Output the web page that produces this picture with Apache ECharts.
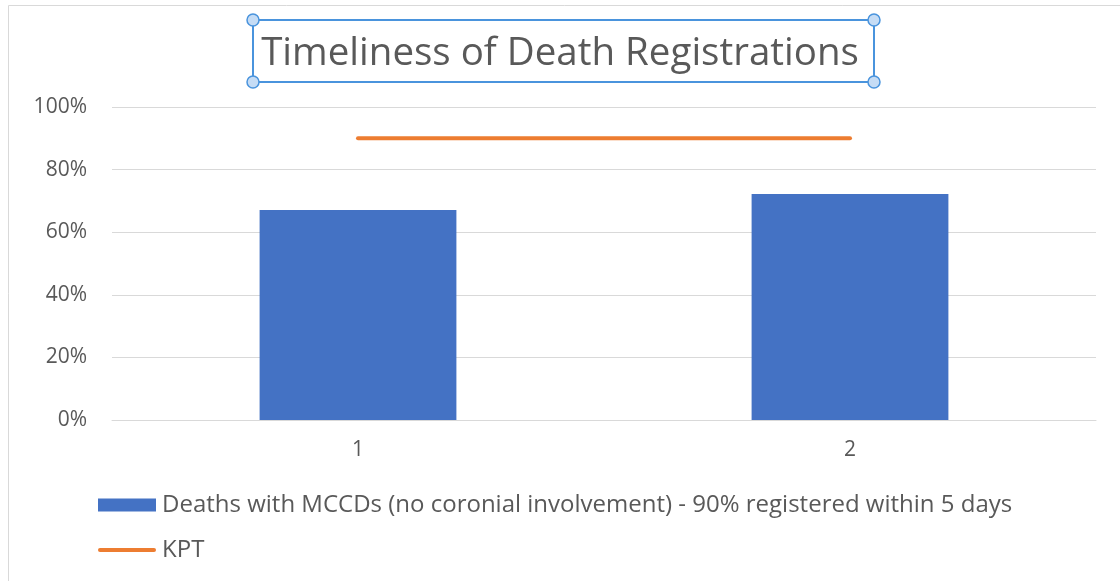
<!DOCTYPE html>
<html>
<head>
<meta charset="utf-8">
<script src="https://cdn.jsdelivr.net/npm/echarts@6/dist/echarts.min.js"></script>
<style>
  html, body { margin: 0; padding: 0; background: #fff; }
  #chart { width: 1120px; height: 581px; }
</style>
</head>
<body>
<div id="chart"></div>
<script>
  // data
  var categories = ['1', '2']
  var mccdValues = [0.671, 0.722]
  var kptValues = [0.9, 0.9]

  var mccdName = 'Deaths with MCCDs (no coronial involvement) - 90% registered within 5 days'
  var font = '"Open Sans", sans-serif'
  var textColor = '#595959'
  var selBlue = '#4a94dd'

  var chart = echarts.init(document.getElementById('chart'))

  function handle (x, y) {
    return {
      type: 'circle',
      shape: { cx: x, cy: y, r: 6 },
      style: { fill: '#c5dcf5', stroke: selBlue, lineWidth: 1.5 },
      z: 10
    }
  }

  var options = {
    animation: false,
    textStyle: { fontFamily: font },
    title: {
      text: 'Timeliness of Death Registrations',
      left: 'center',
      top: 30,
      textStyle: {
        fontFamily: font,
        fontSize: 38.5,
        fontWeight: 'normal',
        color: textColor
      }
    },
    graphic: [
      {
        type: 'rect',
        shape: { x: 8.5, y: 5.5, width: 1140, height: 600 },
        style: { fill: null, stroke: '#d9d9d9', lineWidth: 1 },
        silent: true
      },
      {
        type: 'rect',
        shape: { x: 253, y: 20, width: 621, height: 62 },
        style: { fill: null, stroke: selBlue, lineWidth: 2 },
        z: 9
      },
      handle(253, 20), handle(874, 20), handle(253, 82), handle(874, 82)
    ],
    grid: {
      left: 112,
      right: 24,
      top: 107,
      bottom: 161,
      containLabel: false
    },
    legend: {
      orient: 'vertical',
      left: 93,
      top: 488,
      itemWidth: 58,
      itemHeight: 13,
      itemGap: 21,
      textStyle: {
        fontFamily: font,
        fontSize: 24,
        color: textColor,
        padding: [0, 0, 0, 1]
      },
      data: [
        { name: mccdName, icon: 'rect' },
        { name: 'KPT', icon: 'path://M2,0L56,0A2,2,0,0,1,56,4L2,4A2,2,0,0,1,2,0Z' }
      ]
    },
    xAxis: {
      type: 'category',
      data: categories,
      axisLine: { lineStyle: { color: '#d9d9d9', width: 1 } },
      axisTick: { show: false },
      axisLabel: {
        color: textColor,
        fontSize: 21,
        margin: 20
      }
    },
    yAxis: {
      type: 'value',
      min: 0,
      max: 1,
      interval: 0.2,
      axisLine: { show: false },
      axisTick: { show: false },
      splitLine: { lineStyle: { color: '#d9d9d9', width: 1 } },
      axisLabel: {
        color: textColor,
        fontSize: 21,
        margin: 25,
        formatter: function (v) {
          return Math.round(v * 100) + '%'
        }
      }
    },
    series: [
      {
        name: mccdName,
        type: 'bar',
        data: mccdValues,
        barWidth: '40%',
        itemStyle: { color: '#4472c4' }
      },
      {
        name: 'KPT',
        type: 'line',
        data: kptValues,
        symbol: 'none',
        lineStyle: { color: '#ed7d31', width: 4, cap: 'round' },
        itemStyle: { color: '#ed7d31' }
      }
    ]
  }

  chart.setOption(options)
</script>
</body>
</html>
